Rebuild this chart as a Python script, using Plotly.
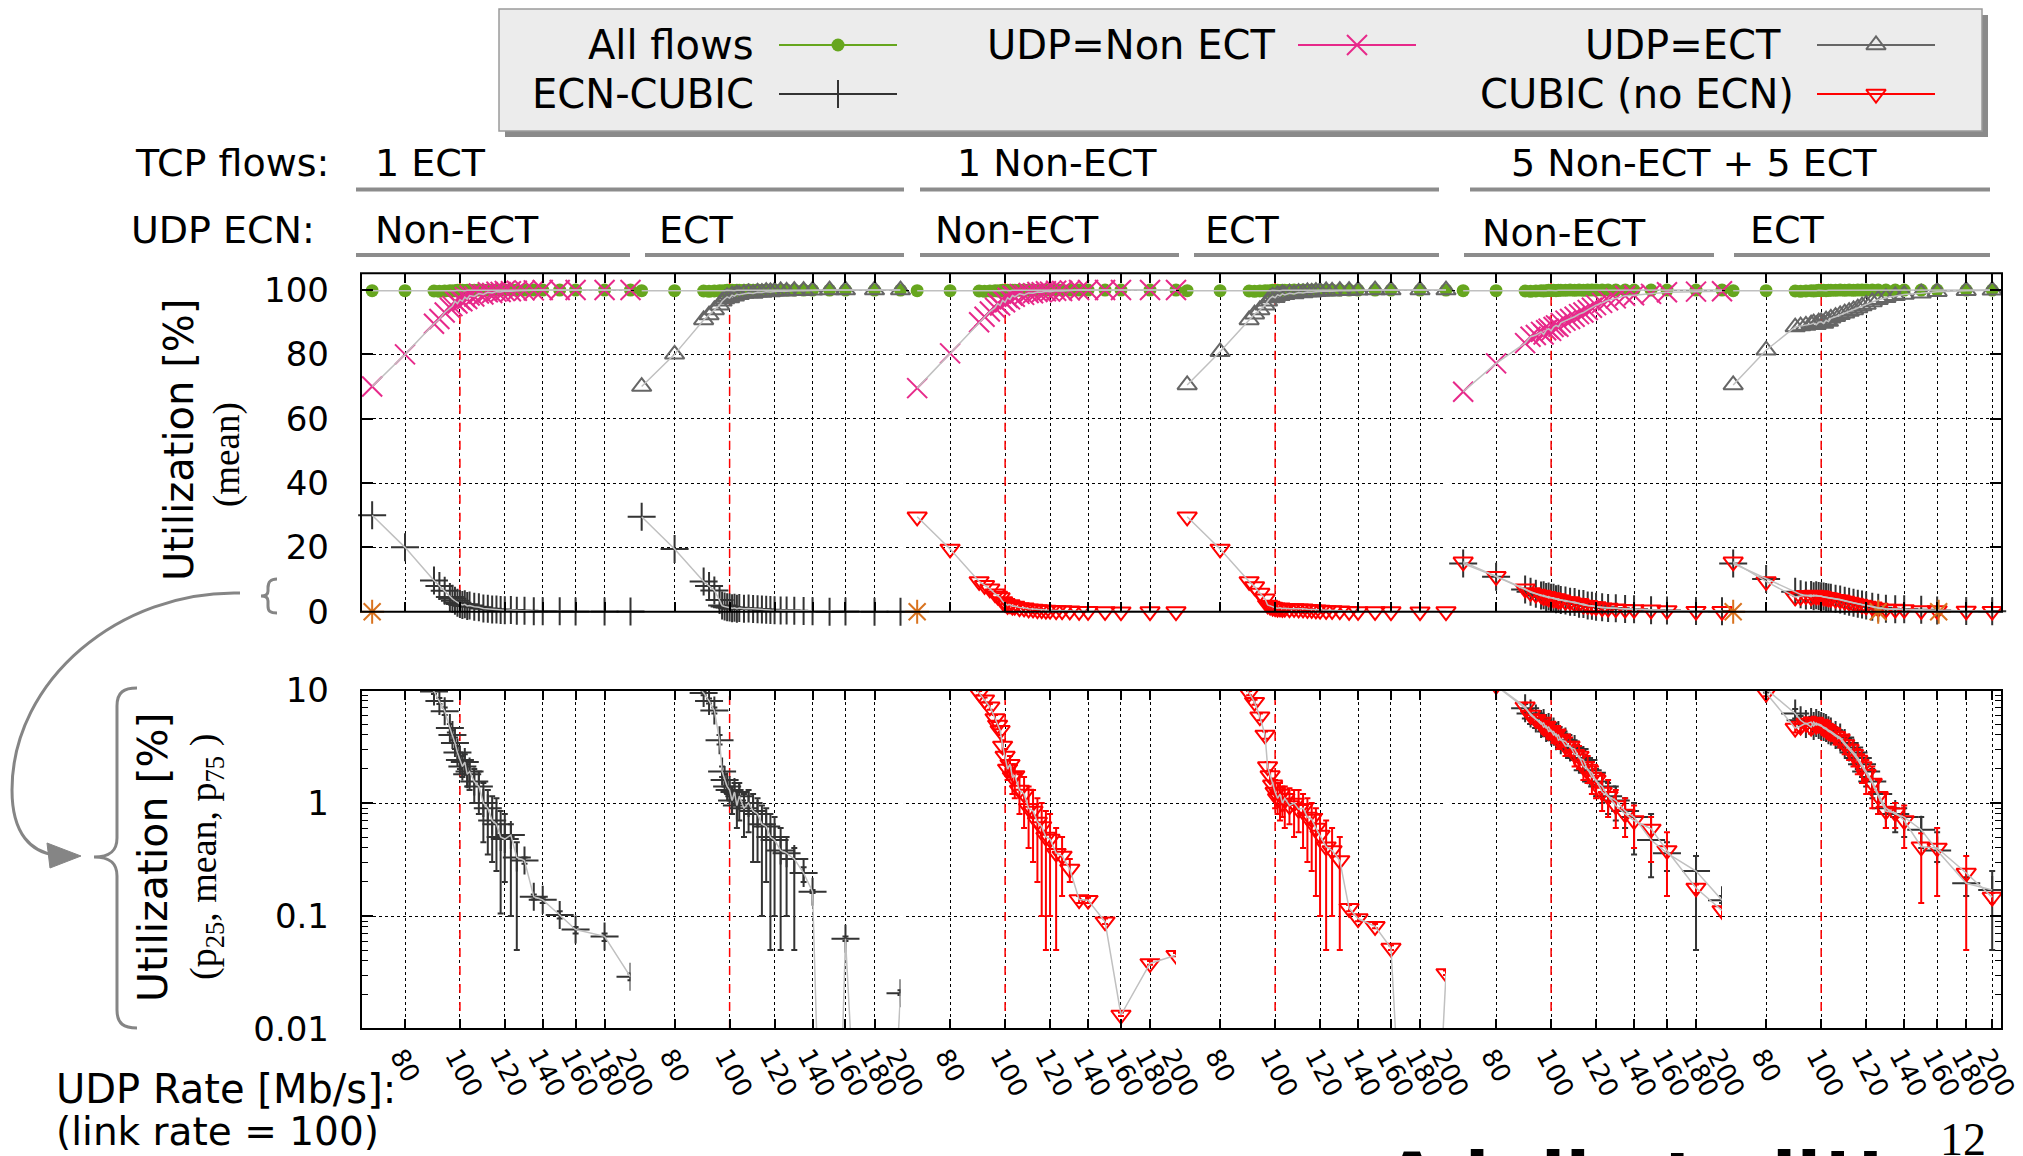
import math
import plotly.graph_objects as go

# page size, and the 8px default body margin of the html page
PAGE_W, PAGE_H = 2023, 1156
OFF = 8
W, H = PAGE_W - OFF, PAGE_H - OFF

# ------------------------------------------------------------------ data
RATES = [70, 80, 90, 92, 94, 96, 97, 98, 99, 100, 101, 102, 103, 104, 106, 108,
         110, 112, 114, 116, 118, 120, 123, 126, 130, 135, 140, 150, 160, 180, 200]

ALL_FLOWS = [99.8, 99.8, 99.7, 99.6, 99.7, 99.8, 99.7, 99.8, 99.9, 99.8, 99.9, 99.8, 99.9, 99.9, 99.9, 100,
             99.9, 100, 99.9, 100, 100, 100, 100, 100, 100, 100, 100, 100, 100, 100, 100]

# panel 1: TCP 1 ECT, UDP Non-ECT
UDP_P1 = [70, 80, 89.5, 91, 93, 94.5, 95, 96.5, 95.8, 97, 96.5, 97.8, 97.2, 98.3, 98, 98.9,
          98.6, 99.3, 99.1, 99.5, 99.4, 99.7, 99.6, 99.8, 99.9, 99.9, 100, 100, 100, 100, 100]
ECN_P1 = [30, 20, 9.7, 8.0, 6.5, 4.6, 4.0, 3.4, 2.8, 2.4, 2.1, 2.3, 1.8, 1.9, 1.55, 1.4,
          1.0, 0.9, 0.7, 0.65, 0.5, 0.48, 0.52, 0.33, 0.31, 0.148, 0.139, 0.102, 0.076, 0.066, 0.029]
ECN_P1_P25 = [29, 19, 9.2, 7.5, 6.0, 4.2, 3.6, 3.0, 2.4, 2.0, 1.7, 1.8, 1.4, 1.3, 1.0, 0.8,
              0.45, 0.35, 0.3, 0.25, 0.105, 0.2, 0.1, 0.05, 0.29, 0.14, 0.13, 0.095, 0.07, 0.06, 0.027]
ECN_P1_P75 = [31, 21, 10.2, 8.5, 7.0, 5.0, 4.4, 3.8, 3.2, 2.8, 2.6, 2.7, 2.2, 2.3, 2.0, 1.9,
              1.5, 1.3, 1.15, 1.1, 0.85, 0.8, 0.65, 0.45, 0.33, 0.155, 0.145, 0.11, 0.08, 0.07, 0.031]

# panel 2: TCP 1 ECT, UDP ECT
UDP_P2 = [70, 80, 90.7, 92.2, 93.8, 95.3, 96.5, 97.2, 97.9, 97.5, 98.4, 98.1, 98.7, 98.5, 98.9, 99.1,
          98.9, 99.3, 99.2, 99.5, 99.4, 99.6, 99.7, 99.6, 99.8, 99.8, 99.9, 100, 100, 100, 100]
ECN_P2 = [29.5, 19.5, 9.4, 8.0, 6.6, 3.6, 1.9, 1.6, 1.4, 1.3, 1.05, 1.25, 0.95, 1.15, 0.9, 1.0,
          0.85, 0.8, 0.65, 0.62, 0.5, 0.47, 0.38, 0.36, 0.32, 0.24, 0.164, 1e-6, 0.063, 1e-6, 0.0207]
ECN_P2_P25 = [29, 19, 9.0, 7.6, 6.2, 3.3, 1.7, 1.4, 1.2, 1.05, 0.8, 0.95, 0.6, 0.7, 0.5, 0.55,
              0.3, 0.3, 0.1, 0.2, 0.05, 0.1, 0.05, 0.1, 0.05, 0.2, 0.16, 1e-6, 0.06, 1e-6, 0.02]
ECN_P2_P75 = [30, 20, 9.8, 8.4, 7.0, 4.0, 2.1, 1.8, 1.6, 1.6, 1.4, 1.5, 1.3, 1.5, 1.2, 1.3,
              1.2, 1.1, 0.95, 0.9, 0.8, 0.75, 0.6, 0.5, 0.4, 0.27, 0.17, 1e-6, 0.066, 1e-6, 0.022]

# panel 3: TCP 1 Non-ECT, UDP Non-ECT
UDP_P3 = [69.5, 80.3, 90, 91.7, 93.3, 94.5, 95.8, 95.2, 96.8, 96.2, 97.6, 97.1, 98.3, 97.9, 98.8, 98.5,
          99.1, 99.0, 99.4, 99.3, 99.6, 99.5, 99.8, 99.7, 99.9, 100, 100, 100, 100, 100, 100]
CUB_P3 = [29.5, 19.5, 9.4, 8.2, 7.1, 5.6, 4.9, 4.4, 3.2, 2.6, 2.0, 2.2, 1.7, 1.75, 1.3, 1.2,
          0.9, 0.85, 0.68, 0.62, 0.5, 0.48, 0.36, 0.34, 0.26, 0.14, 0.138, 0.089, 0.0133, 0.038, 0.045]
CUB_P3_P25 = [29, 19, 9.0, 7.8, 6.7, 5.2, 4.5, 4.0, 2.8, 2.2, 1.6, 1.7, 1.2, 1.1, 0.8, 0.6,
              0.4, 0.3, 0.2, 0.1, 0.05, 0.1, 0.05, 0.15, 0.2, 0.13, 0.13, 0.085, 0.013, 0.037, 0.044]
CUB_P3_P75 = [30, 20, 9.8, 8.6, 7.5, 6.0, 5.3, 4.8, 3.6, 3.0, 2.4, 2.6, 2.2, 2.2, 1.8, 1.7,
              1.4, 1.3, 1.1, 1.0, 0.85, 0.8, 0.6, 0.5, 0.32, 0.15, 0.145, 0.095, 0.014, 0.04, 0.047]

# panel 4: TCP 1 Non-ECT, UDP ECT
UDP_P4 = [70.5, 80.8, 90.7, 92.5, 93.8, 95.3, 96.5, 97.5, 98, 97.6, 98.5, 98.2, 98.8, 98.5, 99, 98.8,
          99.2, 99.1, 99.4, 99.3, 99.5, 99.6, 99.7, 99.6, 99.8, 99.8, 99.9, 100, 100, 100, 100]
CUB_P4 = [29.5, 19.5, 9.4, 7.8, 5.8, 4.0, 2.1, 1.75, 1.45, 1.25, 1.1, 1.2, 1.0, 1.1, 0.95, 1.0,
          0.88, 0.9, 0.75, 0.72, 0.6, 0.52, 0.41, 0.38, 0.31, 0.117, 0.095, 0.081, 0.052, 1e-6, 0.031]
CUB_P4_P25 = [29, 19, 9.0, 7.4, 5.4, 3.7, 1.9, 1.55, 1.25, 0.9, 0.8, 0.7, 0.75, 0.6, 0.65, 0.5,
              0.55, 0.4, 0.3, 0.25, 0.15, 0.1, 0.05, 0.1, 0.05, 0.11, 0.09, 0.078, 0.05, 1e-6, 0.03]
CUB_P4_P75 = [30, 20, 9.8, 8.2, 6.2, 4.3, 2.3, 1.95, 1.65, 1.6, 1.5, 1.5, 1.4, 1.4, 1.35, 1.3,
              1.3, 1.2, 1.1, 1.0, 0.9, 0.8, 0.7, 0.6, 0.5, 0.125, 0.1, 0.085, 0.055, 1e-6, 0.033]

# panel 5: TCP 5 Non-ECT + 5 ECT, UDP Non-ECT
UDP_P5 = [68.4, 77.2, 83.5, 85.5, 86, 87, 86.2, 87.5, 88, 87.3, 88.5, 89, 88.6, 89.8, 90.5, 91,
          91.7, 92.5, 93, 93.8, 94.5, 95.3, 96, 96.8, 97.4, 98.2, 98.4, 98.8, 99.3, 99.5, 99.6]
ECN_P5 = [15, 10.9, 6.9, 6.2, 5.6, 5.0, 5.1, 4.6, 4.7, 4.3, 4.3, 3.9, 4.0, 3.6, 3.5, 3.1,
          3.0, 2.5, 2.4, 1.95, 1.85, 1.55, 1.4, 1.15, 1.05, 0.85, 0.75, 0.47, 0.36, 0.25, 0.138]
ECN_P5_P25 = [14, 10, 6.3, 5.6, 5.0, 4.4, 4.5, 4.0, 4.1, 3.7, 3.7, 3.3, 3.4, 3.0, 2.9, 2.6,
              2.5, 2.0, 1.9, 1.5, 1.45, 1.15, 1.0, 0.8, 0.7, 0.6, 0.35, 0.22, 0.25, 0.05, 0.13]
ECN_P5_P75 = [16, 11.8, 7.5, 6.8, 6.2, 5.6, 5.7, 5.2, 5.3, 4.9, 4.9, 4.5, 4.6, 4.2, 4.1, 3.7,
              3.6, 3.0, 2.9, 2.4, 2.3, 2.0, 1.8, 1.5, 1.4, 1.1, 1.0, 0.8, 0.45, 0.34, 0.15]
CUB_P5 = [15.5, 11, 7.1, 6.0, 5.5, 5.2, 4.7, 4.8, 4.3, 4.4, 4.0, 4.1, 3.6, 3.7, 3.2, 3.2,
          2.7, 2.6, 2.1, 2.0, 1.7, 1.6, 1.25, 1.15, 0.95, 0.8, 0.7, 0.59, 0.38, 0.177, 0.112]
CUB_P5_P25 = [14.5, 10.2, 6.5, 5.4, 4.9, 4.6, 4.1, 4.2, 3.7, 3.8, 3.4, 3.5, 3.0, 3.1, 2.6, 2.6,
              2.1, 2.0, 1.6, 1.5, 1.2, 1.1, 0.85, 0.75, 0.6, 0.5, 0.4, 0.3, 0.15, 0.16, 0.1]
CUB_P5_P75 = [16.5, 11.8, 7.7, 6.6, 6.1, 5.8, 5.3, 5.4, 4.9, 5.0, 4.6, 4.7, 4.2, 4.3, 3.8, 3.8,
              3.3, 3.2, 2.7, 2.6, 2.3, 2.1, 1.8, 1.6, 1.3, 1.1, 0.95, 0.75, 0.55, 0.19, 0.12]

# panel 6: TCP 5 Non-ECT + 5 ECT, UDP ECT
UDP_P6 = [70.5, 81.3, 88.5, 88.8, 89, 89.4, 89.7, 89.2, 90, 90.1, 89.6, 90.6, 90.2, 91.2, 91.7, 92.3,
          92.8, 93.3, 93.8, 94.4, 95, 95.5, 96.3, 97, 97.6, 98.2, 98.6, 99, 99.5, 99.8, 99.9]
ECN_P6 = [15, 10.2, 6.2, 5.4, 5.0, 5.2, 4.8, 5.1, 4.9, 4.8, 4.7, 4.6, 4.4, 4.3, 4.0, 3.8,
          3.4, 3.1, 2.8, 2.5, 2.2, 1.9, 1.55, 1.2, 0.9, 0.8, 0.75, 0.58, 0.38, 0.195, 0.17]
ECN_P6_P25 = [14, 9.5, 5.6, 4.9, 4.5, 4.6, 4.3, 4.5, 4.3, 4.2, 4.1, 4.0, 3.8, 3.7, 3.4, 3.2,
              2.8, 2.5, 2.2, 2.0, 1.7, 1.4, 1.1, 0.8, 0.6, 0.55, 0.5, 0.4, 0.3, 0.15, 0.05]
ECN_P6_P75 = [16, 11, 6.8, 5.9, 5.5, 5.8, 5.3, 5.7, 5.5, 5.4, 5.3, 5.2, 5.0, 4.9, 4.6, 4.4,
              4.0, 3.7, 3.4, 3.0, 2.7, 2.4, 2.0, 1.6, 1.2, 1.0, 0.9, 0.75, 0.55, 0.22, 0.25]
CUB_P6 = [15.5, 9.4, 4.6, 4.8, 5.1, 4.7, 5.2, 4.9, 5.0, 4.9, 4.6, 4.5, 4.3, 4.2, 3.9, 3.7,
          3.3, 3.0, 2.7, 2.4, 2.1, 1.8, 1.5, 1.15, 0.85, 0.82, 0.7, 0.41, 0.4, 0.24, 0.147]
CUB_P6_P25 = [14.5, 8.8, 4.2, 4.3, 4.5, 4.1, 4.6, 4.3, 4.4, 4.3, 4.0, 3.9, 3.7, 3.6, 3.3, 3.1,
              2.7, 2.4, 2.1, 1.8, 1.5, 1.2, 0.9, 0.8, 0.6, 0.6, 0.4, 0.13, 0.15, 0.05, 0.13]
CUB_P6_P75 = [16.5, 10, 5.0, 5.3, 5.7, 5.3, 5.8, 5.5, 5.6, 5.5, 5.2, 5.1, 4.9, 4.8, 4.5, 4.3,
              3.9, 3.6, 3.3, 3.0, 2.7, 2.4, 2.1, 1.6, 1.2, 1.0, 0.95, 0.54, 0.6, 0.34, 0.16]

# extra (orange asterisk) points at zero utilisation
OTHER_P1_X, OTHER_P1_Y = [70], [0]
OTHER_P3_X, OTHER_P3_Y = [70], [0]
OTHER_P6_X, OTHER_P6_Y = [70, 126, 161], [0, 0, 0]

LINK_RATE = 100
TICK_RATES = [80, 100, 120, 140, 160, 180, 200]
TICK_TEXT = ["80", "100", "120", "140", "160", "180", "200"]
TOP_TICKS = [0, 20, 40, 60, 80, 100]
BOT_TICKS = [0.01, 0.1, 1, 10]
BOT_TICK_TEXT = ["0.01", "0.1", "1", "10"]
BOT_MINOR = [0.02, 0.03, 0.04, 0.05, 0.06, 0.07, 0.08, 0.09,
             0.2, 0.3, 0.4, 0.5, 0.6, 0.7, 0.8, 0.9,
             2, 3, 4, 5, 6, 7, 8, 9]

TCP_FLOWS = ["1 ECT", "1 Non-ECT", "5 Non-ECT + 5 ECT"]
UDP_ECN = ["Non-ECT", "ECT", "Non-ECT", "ECT", "Non-ECT", "ECT"]

PANELS = [
    dict(udp=("udp_non", UDP_P1), tcp=[("ecn", ECN_P1, ECN_P1_P25, ECN_P1_P75)], other=(OTHER_P1_X, OTHER_P1_Y)),
    dict(udp=("udp_ect", UDP_P2), tcp=[("ecn", ECN_P2, ECN_P2_P25, ECN_P2_P75)], other=None),
    dict(udp=("udp_non", UDP_P3), tcp=[("cubic", CUB_P3, CUB_P3_P25, CUB_P3_P75)], other=(OTHER_P3_X, OTHER_P3_Y)),
    dict(udp=("udp_ect", UDP_P4), tcp=[("cubic", CUB_P4, CUB_P4_P25, CUB_P4_P75)], other=None),
    dict(udp=("udp_non", UDP_P5), tcp=[("ecn", ECN_P5, ECN_P5_P25, ECN_P5_P75),
                                       ("cubic", CUB_P5, CUB_P5_P25, CUB_P5_P75)], other=None),
    dict(udp=("udp_ect", UDP_P6), tcp=[("ecn", ECN_P6, ECN_P6_P25, ECN_P6_P75),
                                       ("cubic", CUB_P6, CUB_P6_P25, CUB_P6_P75)], other=(OTHER_P6_X, OTHER_P6_Y)),
]

# ------------------------------------------------------------------ styles / layout geometry
STY = {
    "all": dict(symbol="circle", size=13, color="#66a61e", lw=0),
    "udp_non": dict(symbol="x-thin-open", size=20, color="#e7298a", lw=2),
    "udp_ect": dict(symbol="triangle-up-open", size=17, color="#666666", lw=2),
    "ecn": dict(symbol="cross-thin-open", size=20, color="#333333", lw=2),
    "cubic": dict(symbol="triangle-down-open", size=17, color="#ff0000", lw=2),
    "other": dict(symbol="asterisk-open", size=20, color="#d9731f", lw=2),
}
MEAN_LINE = dict(color="#c0c0c0", width=1.5)

PANEL_PX = [(361, 630.5), (630.5, 900.5), (906, 1176), (1176, 1446), (1452, 1722), (1722, 2002)]
X_LO = 66.9
X_HI = [200, 200, 200, 200, 200, 208.1]
TOP_PX = (273.3, 611.7)
BOT_PX = (690, 1029)
TOP_MAX = 105.2
FONT = "DejaVu Sans"
SERIF = "Liberation Serif"


def fx(px):
    return (px - OFF) / W


def fy(py):
    return 1 - (py - OFF) / H


def marker(kind):
    s = STY[kind]
    return dict(symbol=s["symbol"], size=s["size"], color=s["color"],
                line=dict(width=s["lw"], color=s["color"]))


def note(text, x, y, xanchor="left", yanchor="middle", **kw):
    return dict(text=text, x=fx(x), y=fy(y), xref="paper", yref="paper", xanchor=xanchor,
                yanchor=yanchor, showarrow=False, **kw)


fig = go.Figure()
layout = dict(width=W, height=H, margin=dict(l=0, r=0, t=0, b=0, pad=0), template="none",
              paper_bgcolor="white", plot_bgcolor="rgba(0,0,0,0)", showlegend=False,
              font=dict(family=FONT, color="black"))

common_x = dict(type="log", tickvals=TICK_RATES, ticks="inside", ticklen=10, tickwidth=1.5,
                tickcolor="black", mirror="ticks", showline=False, showgrid=True, gridcolor="black",
                griddash="dot", gridwidth=1, zeroline=False, fixedrange=True, automargin=False)

for i in range(6):
    a, b = PANEL_PX[i]
    rng = [math.log10(X_LO), math.log10(X_HI[i])]
    kt = "xaxis" if i == 0 else f"xaxis{i + 1}"
    layout[kt] = dict(common_x, domain=[fx(a), fx(b)], range=rng, anchor="y", showticklabels=False)
    layout[f"xaxis{i + 7}"] = dict(common_x, domain=[fx(a), fx(b)], range=rng, anchor="y2",
                                   showticklabels=True, ticktext=TICK_TEXT, tickangle=62,
                                   tickfont=dict(size=26), ticklabelstandoff=6, ticklabelshift=-4,
                                   ticklabeloverflow="allow")

common_y = dict(ticks="inside", ticklen=12, tickwidth=1.5, tickcolor="black", showline=False,
                zeroline=False, fixedrange=True, automargin=False)
layout["yaxis"] = dict(common_y, domain=[fy(TOP_PX[1]), fy(TOP_PX[0])], range=[0, TOP_MAX], anchor="x",
                       tickvals=TOP_TICKS, showgrid=True, gridcolor="black", griddash="dot", gridwidth=1,
                       tickfont=dict(size=34), ticklabelstandoff=31, ticklabeloverflow="allow")
layout["yaxis2"] = dict(common_y, type="log", domain=[fy(BOT_PX[1]), fy(BOT_PX[0])], range=[-2, 1],
                        anchor="x7", tickvals=BOT_TICKS, ticktext=BOT_TICK_TEXT, showgrid=True,
                        gridcolor="black", griddash="dot", gridwidth=1, tickfont=dict(size=34),
                        ticklabelstandoff=31, ticklabeloverflow="allow",
                        minor=dict(tickvals=BOT_MINOR, ticks="inside", ticklen=7, tickcolor="black",
                                   tickwidth=1, showgrid=False))
layout["yaxis3"] = dict(common_y, overlaying="y", side="right", anchor="x6", range=[0, TOP_MAX],
                        tickvals=TOP_TICKS, showticklabels=False, showgrid=False)
layout["yaxis4"] = dict(common_y, type="log", overlaying="y2", side="right", anchor="x12", range=[-2, 1],
                        tickvals=BOT_TICKS, showticklabels=False, showgrid=False,
                        minor=dict(tickvals=BOT_MINOR, ticks="inside", ticklen=7, tickcolor="black",
                                   tickwidth=1, showgrid=False))
# pixel overlay (page coordinates) for the hand-drawn legend samples
layout["xaxis13"] = dict(domain=[0, 1], range=[OFF, OFF + W], anchor="y5", visible=False, fixedrange=True)
layout["yaxis5"] = dict(domain=[0, 1], range=[OFF + H, OFF], anchor="x13", visible=False, fixedrange=True)

# ------------------------------------------------------------------ traces
for i, p in enumerate(PANELS):
    xt = "x" if i == 0 else f"x{i + 1}"
    xb = f"x{i + 7}"
    fig.add_trace(go.Scatter(x=[LINK_RATE, LINK_RATE], y=[0, TOP_MAX], xaxis=xt, yaxis="y", mode="lines",
                             line=dict(color="red", width=1.5, dash="dash"), hoverinfo="skip"))
    fig.add_trace(go.Scatter(x=[LINK_RATE, LINK_RATE], y=[0.01, 10], xaxis=xb, yaxis="y2", mode="lines",
                             line=dict(color="red", width=1.5, dash="dash"), hoverinfo="skip"))
    fig.add_trace(go.Scatter(x=RATES, y=ALL_FLOWS, xaxis=xt, yaxis="y", mode="markers",
                             marker=marker("all"), cliponaxis=False, hoverinfo="skip"))
    ukind, uvals = p["udp"]
    fig.add_trace(go.Scatter(x=RATES, y=uvals, xaxis=xt, yaxis="y", mode="markers",
                             marker=marker(ukind), cliponaxis=False, hoverinfo="skip"))
    for kind, mean, p25, p75 in p["tcp"]:
        fig.add_trace(go.Scatter(x=RATES, y=mean, xaxis=xt, yaxis="y", mode="markers",
                                 marker=marker(kind), cliponaxis=False, hoverinfo="skip"))
    if p["other"] is not None:
        ox, oy = p["other"]
        fig.add_trace(go.Scatter(x=ox, y=oy, xaxis=xt, yaxis="y", mode="markers",
                                 marker=marker("other"), cliponaxis=False, hoverinfo="skip"))
    for vals in [ALL_FLOWS, uvals] + [t[1] for t in p["tcp"]]:
        fig.add_trace(go.Scatter(x=RATES, y=vals, xaxis=xt, yaxis="y", mode="lines",
                                 line=MEAN_LINE, hoverinfo="skip"))
    for kind, mean, p25, p75 in p["tcp"]:
        up = [max(h - m, 0) for h, m in zip(p75, mean)]
        dn = [max(m - l, 0) for l, m in zip(p25, mean)]
        fig.add_trace(go.Scatter(x=RATES, y=mean, xaxis=xb, yaxis="y2", mode="markers",
                                 marker=marker(kind), cliponaxis=True, hoverinfo="skip",
                                 error_y=dict(type="data", symmetric=False, array=up, arrayminus=dn,
                                              color=STY[kind]["color"], thickness=2, width=3)))
    for kind, mean, p25, p75 in p["tcp"]:
        fig.add_trace(go.Scatter(x=RATES, y=mean, xaxis=xb, yaxis="y2", mode="lines",
                                 line=MEAN_LINE, hoverinfo="skip"))

fig.add_trace(go.Scatter(x=[100], y=[50], xaxis="x6", yaxis="y3", mode="markers",
                         marker=dict(opacity=0), hoverinfo="skip"))
fig.add_trace(go.Scatter(x=[100], y=[1], xaxis="x12", yaxis="y4", mode="markers",
                         marker=dict(opacity=0), hoverinfo="skip"))

# ------------------------------------------------------------------ legend (drawn by hand)
LEGEND = [
    ("All flows", "all", 756, 779, 897, 45),
    ("ECN-CUBIC", "ecn", 756, 779, 897, 94),
    ("UDP=Non ECT", "udp_non", 1277, 1298, 1416, 45),
    ("UDP=ECT", "udp_ect", 1783, 1817, 1935, 45),
    ("CUBIC (no ECN)", "cubic", 1796, 1817, 1935, 94),
]
annotations = []
shapes = []
shapes.append(dict(type="rect", xref="paper", yref="paper", x0=fx(505), x1=fx(1988), y0=fy(137), y1=fy(15),
                   fillcolor="#8a8a8a", line=dict(width=0), layer="below"))
shapes.append(dict(type="rect", xref="paper", yref="paper", x0=fx(499), x1=fx(1982), y0=fy(131), y1=fy(9),
                   fillcolor="#ececec", line=dict(color="#9a9a9a", width=1.5), layer="below"))
for label, kind, tx, l0, l1, yy in LEGEND:
    col = STY[kind]["color"]
    fig.add_trace(go.Scatter(x=[l0, l1], y=[yy, yy], xaxis="x13", yaxis="y5", mode="lines",
                             line=dict(color=col, width=2), hoverinfo="skip"))
    fig.add_trace(go.Scatter(x=[(l0 + l1) / 2], y=[yy], xaxis="x13", yaxis="y5", mode="markers",
                             marker=marker(kind), hoverinfo="skip"))
    annotations.append(note(label, tx, yy, xanchor="right", font=dict(size=40, family=FONT)))

# ------------------------------------------------------------------ header rows
HDR1_Y, HDR2_Y = 163, 230
annotations.append(note("TCP flows:", 331, HDR1_Y, xanchor="right", font=dict(size=38)))
annotations.append(note("UDP ECN:", 317, HDR2_Y, xanchor="right", font=dict(size=38)))
TCP_TXT_X = [373, 955, 1509]
TCP_LINE = [(356, 904), (920, 1439), (1470, 1990)]
for t, x0, (l0, l1) in zip(TCP_FLOWS, TCP_TXT_X, TCP_LINE):
    annotations.append(note(t, x0, HDR1_Y, font=dict(size=38)))
    shapes.append(dict(type="line", xref="paper", yref="paper", x0=fx(l0), x1=fx(l1), y0=fy(189.5),
                       y1=fy(189.5), line=dict(color="#8c8c8c", width=4)))
UDP_TXT_X = [373, 657, 933, 1203, 1480, 1748]
UDP_TXT_Y = [230, 230, 230, 230, 233, 230]
UDP_LINE = [(356, 630), (645, 904), (920, 1179), (1194, 1439), (1464, 1714), (1734, 1990)]
for t, x0, y0, (l0, l1) in zip(UDP_ECN, UDP_TXT_X, UDP_TXT_Y, UDP_LINE):
    annotations.append(note(t, x0, y0, font=dict(size=38)))
    shapes.append(dict(type="line", xref="paper", yref="paper", x0=fx(l0), x1=fx(l1), y0=fy(255),
                       y1=fy(255), line=dict(color="#8c8c8c", width=4)))

# ------------------------------------------------------------------ axis titles and notes
annotations += [
    note("Utilization [%]", 179, 440, xanchor="center", textangle=-90, font=dict(size=40)),
    note("(mean)", 227, 455, xanchor="center", textangle=-90, font=dict(size=37, family=SERIF)),
    note("Utilization [%]", 153, 858, xanchor="center", textangle=-90, font=dict(size=41)),
    note("(p<sub>25</sub>, mean, p<sub>75</sub> )", 206, 857, xanchor="center", textangle=-90,
         font=dict(size=38, family=SERIF)),
    note("UDP Rate [Mb/s]:", 54, 1089, font=dict(size=40)),
    note("(link rate = 100)", 54, 1131, font=dict(size=39)),
    note("<b>A lull at all!!</b>", 1382, 1134, yanchor="top", font=dict(size=72)),
    note("12", 1938, 1112, yanchor="top", font=dict(size=46, family=SERIF)),
]

# ------------------------------------------------------------------ frames, braces, arrow


def path(cmds):
    out = []
    for c in cmds:
        if isinstance(c, str):
            out.append(c)
        else:
            out.append(f"{fx(c[0]):.5f},{fy(c[1]):.5f}")
    return " ".join(out)


for (t, b) in (TOP_PX, BOT_PX):
    shapes.append(dict(type="rect", xref="paper", yref="paper", x0=fx(361), x1=fx(2002), y0=fy(b), y1=fy(t),
                       line=dict(color="black", width=2), fillcolor="rgba(0,0,0,0)", layer="above"))

GRAY = "#858585"
shapes.append(dict(type="path", xref="paper", yref="paper", layer="above",
                   path=path(["M", (277, 579), "C", (270, 579), (268, 582), (268, 588), "L", (268, 591),
                              "C", (268, 594), (266, 596), (261, 596), "C", (266, 596), (268, 598), (268, 601),
                              "L", (268, 606), "C", (268, 611), (270, 613), (277, 613)]),
                   line=dict(color=GRAY, width=3)))
shapes.append(dict(type="path", xref="paper", yref="paper", layer="above",
                   path=path(["M", (240, 593), "C", (120, 590), (12, 680), (12, 790),
                              "C", (12, 835), (32, 852), (55, 855)]),
                   line=dict(color=GRAY, width=3)))
shapes.append(dict(type="path", xref="paper", yref="paper", layer="above",
                   path=path(["M", (81, 856), "L", (47, 843), "L", (50, 868), "Z"]),
                   line=dict(color=GRAY, width=1), fillcolor=GRAY))
shapes.append(dict(type="path", xref="paper", yref="paper", layer="above",
                   path=path(["M", (137, 688), "C", (124, 688), (117, 692), (117, 706), "L", (117, 838),
                              "C", (117, 851), (110, 857), (94, 857), "C", (110, 857), (117, 863), (117, 876),
                              "L", (117, 1010), "C", (117, 1024), (124, 1028), (137, 1028)]),
                   line=dict(color=GRAY, width=3)))

layout["annotations"] = annotations
layout["shapes"] = shapes
fig.update_layout(**layout)
fig.write_html("out.html")
